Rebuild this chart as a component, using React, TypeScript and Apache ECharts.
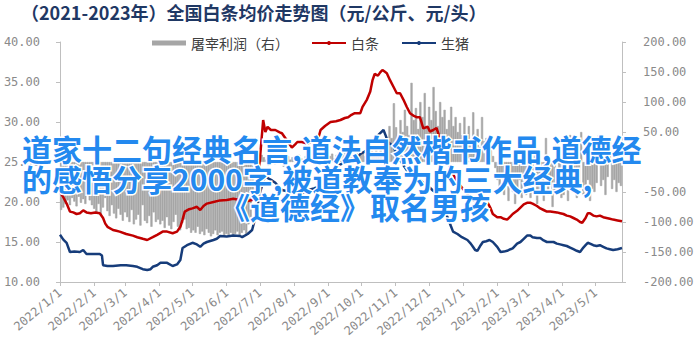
import React, { useEffect, useRef } from 'react';
import * as echarts from 'echarts';

const titleText = '（2021-2023年）全国白条均价走势图（元/公斤、元/头）';
const profitName = '屠宰利润（右）';
const baitiaoName = '白条';
const shengzhuName = '生猪';
const overlayLines = [
  '道家十二句经典名言,道法自然楷书作品,道德经',
  '的感悟分享2000字,被道教奉为的三大经典,',
  '《道德经》取名男孩',
];

// x range: 2022/1/1 .. 2023/5/25 (day offsets from 2022-01-01)
const lastDay = 509;

// slaughter profit (right axis, 元/头), one value every 2 days from 2022-01-01
const profitJan22 = [-80, -76, -70, -64, -72, -60, -66, -74, -58, -68, -62, -70, -56, -64, -72, -78];
const profitFeb22 = [-84, -70, -88, -76, -60, -82, -90, -72, -86, -94, -78, -88, -98, -84];
const profitMar22 = [-92, -100, -80, -104, -96, -88, -106, -72, -98, -102, -90, -108, -84, -100, -96];
const profitApr22 = [-104, -98, -110, -92, -106, -112, -100, -88, -108, -114, -102, -96, -112, -110, -118];
const profitMay22 = [-114, -118, -108, -120, -116, -122, -112, -118, -124, -120, -114, -122, -118, -116, -124, -120];
const profitJun22 = [-122, -118, -124, -120, -116, -122, -118, -114, -120, -104, -92, -60, -30, -5, 6];
const profitJul22 = [12, 8, 4, -6, 10, 6, -4, 8, 12, 5, -8, 6, 10, 4, 8];
const profitAug22 = [4, 8, 12, 6, -5, 10, 4, 12, 8, 3, 6, 10, 14, 8, 6, 12];
const profitSep22 = [10, 14, 6, 12, 16, 8, 12, 18, 10, 14, 8, 12, 18, 10, 14];
const profitOct22 = [16, 10, 20, 14, 18, 12, 22, 16, 20, 14, 28, 24, 60, 40, 98];
const profitNov22 = [58, 40, 70, 50, 87, 60, 45, 132, 70, 90, 55, 100, 75, 115, 60];
const profitDec22 = [92, 70, 125, 85, 60, 100, 75, 87, 55, 70, 92, 60, 75, 50, 65, 45];
const profitJan23 = [75, 40, 60, 30, 83, 45, 55, 25, 75, 35, 40, 20, 30, 10, -10];
const profitFeb23 = [-30, -45, -20, -55, -40, -65, -35, -50, -70, -45, -30, -60, -40, -55];
const profitMar23 = [-35, -60, -45, 20, -70, -50, -30, -65, 40, -55, -40, -75, -50, 30, -45, -60];
const profitApr23 = [-55, -40, -65, 45, -50, -35, -60, -45, 50, -55, -40, -30, -65, -45, -50];
const profitMay23 = [-35, 45, -40, -30, -55, -25, 40, -45, -30, -50, -35, -40];

// 白条 price (left axis, 元/公斤): [day offset from 2022-01-01, value]
const baitiao: [number, number][] = [
  [0, 21.25], [3, 20.6], [6, 19.8], [9, 18.8], [12, 18.7], [15, 18.5], [18, 18.6], [21, 18.95], [24, 18.7],
  [28, 18.6], [32, 18.7], [36, 18.6], [39, 18.0], [41, 17.3], [43, 16.9], [48, 16.5], [51, 16.4], [54, 16.3],
  [60, 16.0], [66, 15.8], [70, 15.6], [75, 15.4], [79, 15.25], [84, 15.6], [88, 15.9], [93, 16.3], [97, 16.3],
  [102, 16.1], [106, 16.3], [109, 16.9], [111, 17.8], [113, 18.8], [117, 19.1], [120, 19.2], [124, 19.4],
  [127, 19.0], [130, 19.5], [133, 19.8], [139, 20.0], [145, 20.2], [151, 20.25], [157, 20.4], [163, 20.25],
  [169, 20.1], [174, 20.25], [177, 21.25], [179, 23.0], [181, 25.25], [184, 30.25], [186, 28.75], [188, 29.4],
  [191, 29.0], [195, 29.0], [199, 28.7], [201, 28.6], [204, 28.0], [207, 27.4], [210, 26.8], [213, 27.2],
  [215, 27.5], [219, 27.5], [224, 27.3], [229, 27.6], [234, 28.0], [236, 29.0], [240, 29.5], [245, 30.0],
  [250, 30.1], [254, 30.25], [258, 30.5], [261, 30.6], [264, 30.9], [267, 31.1], [272, 31.1], [274, 31.9],
  [278, 32.8], [281, 33.8], [283, 35.2], [285, 36.0], [288, 35.8], [290, 36.2], [292, 36.5], [294, 36.3],
  [296, 36.1], [299, 35.2], [302, 34.4], [305, 33.6], [308, 33.6], [311, 32.8], [314, 31.9], [317, 31.1],
  [320, 30.8], [323, 30.6], [326, 30.6], [329, 29.2], [333, 29.4], [335, 28.8], [338, 29.0], [341, 29.25],
  [344, 28.0], [347, 26.7], [350, 25.5], [353, 24.4], [356, 23.5], [360, 22.5], [364, 21.8], [369, 21.0],
  [374, 20.25], [377, 20.0], [380, 19.8], [384, 19.9], [387, 20.0], [390, 19.2], [392, 18.5], [396, 18.1],
  [399, 18.1], [402, 17.9], [405, 17.8], [408, 18.2], [410, 18.5], [414, 18.9], [417, 19.3], [420, 19.7],
  [423, 19.9], [426, 19.9], [428, 19.8], [432, 19.5], [435, 19.2], [438, 19.0], [441, 18.8], [444, 18.8],
  [447, 18.75], [450, 18.7], [453, 18.6], [456, 18.5], [459, 18.3], [462, 18.2], [465, 18.0], [468, 17.8],
  [471, 17.5], [473, 17.4], [476, 18.0], [478, 18.6], [480, 18.6], [483, 18.3], [486, 18.2], [489, 18.3],
  [492, 18.1], [495, 18.0], [498, 17.9], [501, 17.8], [505, 17.7], [509, 17.6],
];

// 生猪 price (left axis, 元/公斤): [day offset from 2022-01-01, value]
const shengzhu: [number, number][] = [
  [0, 15.9], [3, 15.3], [6, 14.9], [9, 13.75], [13, 13.8], [18, 13.75], [21, 14.0], [24, 13.5], [30, 13.5],
  [36, 13.5], [38, 13.3], [39, 12.1], [43, 12.0], [48, 12.0], [55, 12.1], [60, 12.1], [66, 12.0], [70, 11.9],
  [75, 11.6], [79, 11.5], [82, 11.6], [84, 11.9], [88, 12.1], [91, 12.4], [97, 12.4], [102, 12.0], [106, 12.2],
  [109, 12.75], [111, 14.25], [115, 14.6], [120, 14.9], [124, 14.7], [127, 14.4], [130, 14.8], [133, 15.0],
  [139, 15.25], [142, 15.4], [145, 15.75], [151, 15.7], [157, 15.8], [163, 15.75], [165, 15.6], [170, 16.0],
  [174, 16.5], [177, 18.1], [179, 19.5], [181, 21.1], [184, 22.5], [186, 23.4], [188, 23.0], [192, 22.7],
  [195, 22.4], [198, 21.9], [201, 21.5], [204, 21.4], [207, 21.25], [210, 20.9], [213, 20.6], [216, 20.8],
  [219, 21.1], [222, 21.3], [225, 21.5], [230, 21.7], [234, 21.9], [237, 22.3], [240, 22.75], [243, 23.4],
  [246, 24.0], [250, 24.4], [254, 24.7], [258, 24.9], [262, 25.0], [267, 25.25], [272, 26.0], [276, 26.3],
  [280, 26.8], [284, 27.25], [287, 28.2], [290, 28.6], [293, 29.0], [295, 28.3], [297, 27.5], [302, 26.9],
  [306, 25.8], [310, 24.8], [314, 24.0], [318, 23.5], [322, 23.0], [326, 22.75], [330, 22.3], [334, 21.9],
  [338, 21.4], [341, 21.1], [344, 20.2], [347, 19.3], [351, 18.1], [354, 17.0], [356, 16.3], [360, 16.0],
  [364, 15.6], [369, 15.25], [372, 14.8], [374, 14.4], [376, 14.0], [378, 13.9], [381, 14.6], [383, 15.0],
  [386, 15.1], [389, 15.25], [392, 15.0], [396, 14.4], [399, 13.75], [402, 13.8], [405, 13.9], [408, 14.1],
  [410, 14.2], [414, 14.8], [417, 15.0], [420, 15.4], [423, 15.8], [426, 15.8], [428, 15.6], [432, 15.5],
  [435, 15.5], [438, 15.2], [441, 15.0], [444, 15.0], [447, 15.0], [450, 14.8], [453, 14.7], [456, 14.6],
  [459, 14.5], [462, 14.3], [465, 14.1], [468, 13.9], [471, 13.75], [474, 14.3], [476, 14.6], [478, 14.9],
  [480, 14.8], [483, 14.6], [486, 14.5], [489, 14.6], [492, 14.4], [495, 14.2], [498, 14.1], [501, 14.0],
  [505, 14.1], [509, 14.25],
];

const dayMs = 86400000;
const baseTime = Date.UTC(2022, 0, 1);
const dayToLabel = (d: number) => {
  const dt = new Date(baseTime + Math.round(d) * dayMs);
  return `${dt.getUTCFullYear()}/${dt.getUTCMonth() + 1}/${dt.getUTCDate()}`;
};

export default function App() {
  const ref = useRef<HTMLDivElement>(null);

  useEffect(() => {
    if (!ref.current) return;
    const chart = echarts.init(ref.current, undefined, { renderer: 'svg' });

    const profitAll = [
      ...profitJan22, ...profitFeb22, ...profitMar22, ...profitApr22, ...profitMay22, ...profitJun22,
      ...profitJul22, ...profitAug22, ...profitSep22, ...profitOct22, ...profitNov22, ...profitDec22,
      ...profitJan23, ...profitFeb23, ...profitMar23, ...profitApr23, ...profitMay23,
    ];
    // category per 2-day step (hidden axis used only to lay out the dense bars)
    const profitCats = profitAll.map((_, i) => dayToLabel(i * 2));
    // month-start day offsets (2022/1/1 .. 2023/5/1)
    const monthTicks: number[] = [];
    for (let m = 0; m <= 16; m++) {
      monthTicks.push(Math.round((Date.UTC(2022, m, 1) - baseTime) / dayMs));
    }

    const axisColor = '#bfbfbf';
    const labelColor = '#8a8a8a';
    const mono = '"DejaVu Sans Mono", monospace';
    const cjk = '"Noto Sans CJK SC", sans-serif';

    chart.setOption({
      animation: false,
      backgroundColor: '#ffffff',
      title: {
        text: titleText,
        left: 21,
        top: 3,
        padding: 0,
        textStyle: { fontSize: 18, fontWeight: 'bold', color: '#1f3864', fontFamily: cjk },
      },
      legend: {
        left: 152,
        top: 36,
        padding: 0,
        itemWidth: 34,
        itemHeight: 5,
        itemGap: 22,
        textStyle: { fontSize: 14, color: '#404040', fontFamily: cjk },
        data: [
          { name: profitName, icon: 'rect', itemStyle: { borderWidth: 0 } },
          { name: baitiaoName },
          { name: shengzhuName },
        ],
      },
      grid: { left: 60, right: 78, top: 42, bottom: 69, containLabel: false },
      xAxis: [
        {
          type: 'value',
          min: 0,
          max: lastDay,
          axisLine: { show: true, onZero: false, lineStyle: { color: axisColor } },
          axisTick: { show: true, length: 4, customValues: monthTicks, lineStyle: { color: axisColor } },
          axisLabel: {
            customValues: monthTicks,
            rotate: 40,
            margin: 9,
            color: labelColor,
            fontFamily: mono,
            fontSize: 12,
            formatter: (v: number) => dayToLabel(v),
          },
          splitLine: { show: false },
        },
        {
          type: 'category',
          data: profitCats,
          boundaryGap: true,
          show: false,
          axisLine: { show: false },
          axisTick: { show: false },
          axisLabel: { show: false },
          splitLine: { show: false },
        },
      ],
      yAxis: [
        {
          type: 'value',
          position: 'left',
          min: 10,
          max: 40,
          interval: 5,
          axisLine: { show: true, lineStyle: { color: axisColor } },
          axisTick: { show: true, length: 4, lineStyle: { color: axisColor } },
          splitLine: { show: false },
          axisLabel: {
            margin: 20,
            color: labelColor,
            fontFamily: mono,
            fontSize: 12,
            formatter: (v: number) => v.toFixed(2),
          },
        },
        {
          type: 'value',
          position: 'right',
          min: -200,
          max: 200,
          interval: 50,
          axisLine: { show: true, lineStyle: { color: axisColor } },
          axisTick: { show: true, length: 4, lineStyle: { color: axisColor } },
          splitLine: { show: false },
          axisLabel: {
            margin: 21,
            color: labelColor,
            fontFamily: mono,
            fontSize: 12,
            formatter: (v: number) => (v === 0 ? '' : v.toFixed(2)),
          },
        },
      ],
      series: [
        {
          name: profitName,
          type: 'bar',
          xAxisIndex: 1,
          yAxisIndex: 1,
          barCategoryGap: '0%',
          itemStyle: { color: '#a6a6a6', borderColor: '#a6a6a6', borderWidth: 0.6 },
          data: profitAll,
          z: 1,
        },
        {
          name: baitiaoName,
          type: 'line',
          xAxisIndex: 0,
          yAxisIndex: 0,
          symbol: 'none',
          lineStyle: { color: '#c00000', width: 2.5 },
          itemStyle: { color: '#c00000' },
          data: baitiao,
          z: 3,
        },
        {
          name: shengzhuName,
          type: 'line',
          xAxisIndex: 0,
          yAxisIndex: 0,
          symbol: 'none',
          lineStyle: { color: '#163c7a', width: 2.5 },
          itemStyle: { color: '#163c7a' },
          data: shengzhu,
          z: 3,
        },
      ],
      graphic: [
        { x: 22, y: 148, text: overlayLines[0] },
        { x: 22, y: 178, text: overlayLines[1] },
        { x: 220, y: 206, text: overlayLines[2] },
      ].map((l) => ({
        type: 'text',
        x: l.x,
        y: l.y,
        z: 100,
        style: {
          text: l.text,
          fill: '#2389ef',
          stroke: '#ffffff',
          lineWidth: 3,
          fontSize: 30,
          fontWeight: 'bold',
          fontFamily: cjk,
          verticalAlign: 'middle',
        },
      })),
    });

    return () => chart.dispose();
  }, []);

  return <div ref={ref} style={{ width: 700, height: 351, position: 'absolute', left: 0, top: 0 }} />;
}
